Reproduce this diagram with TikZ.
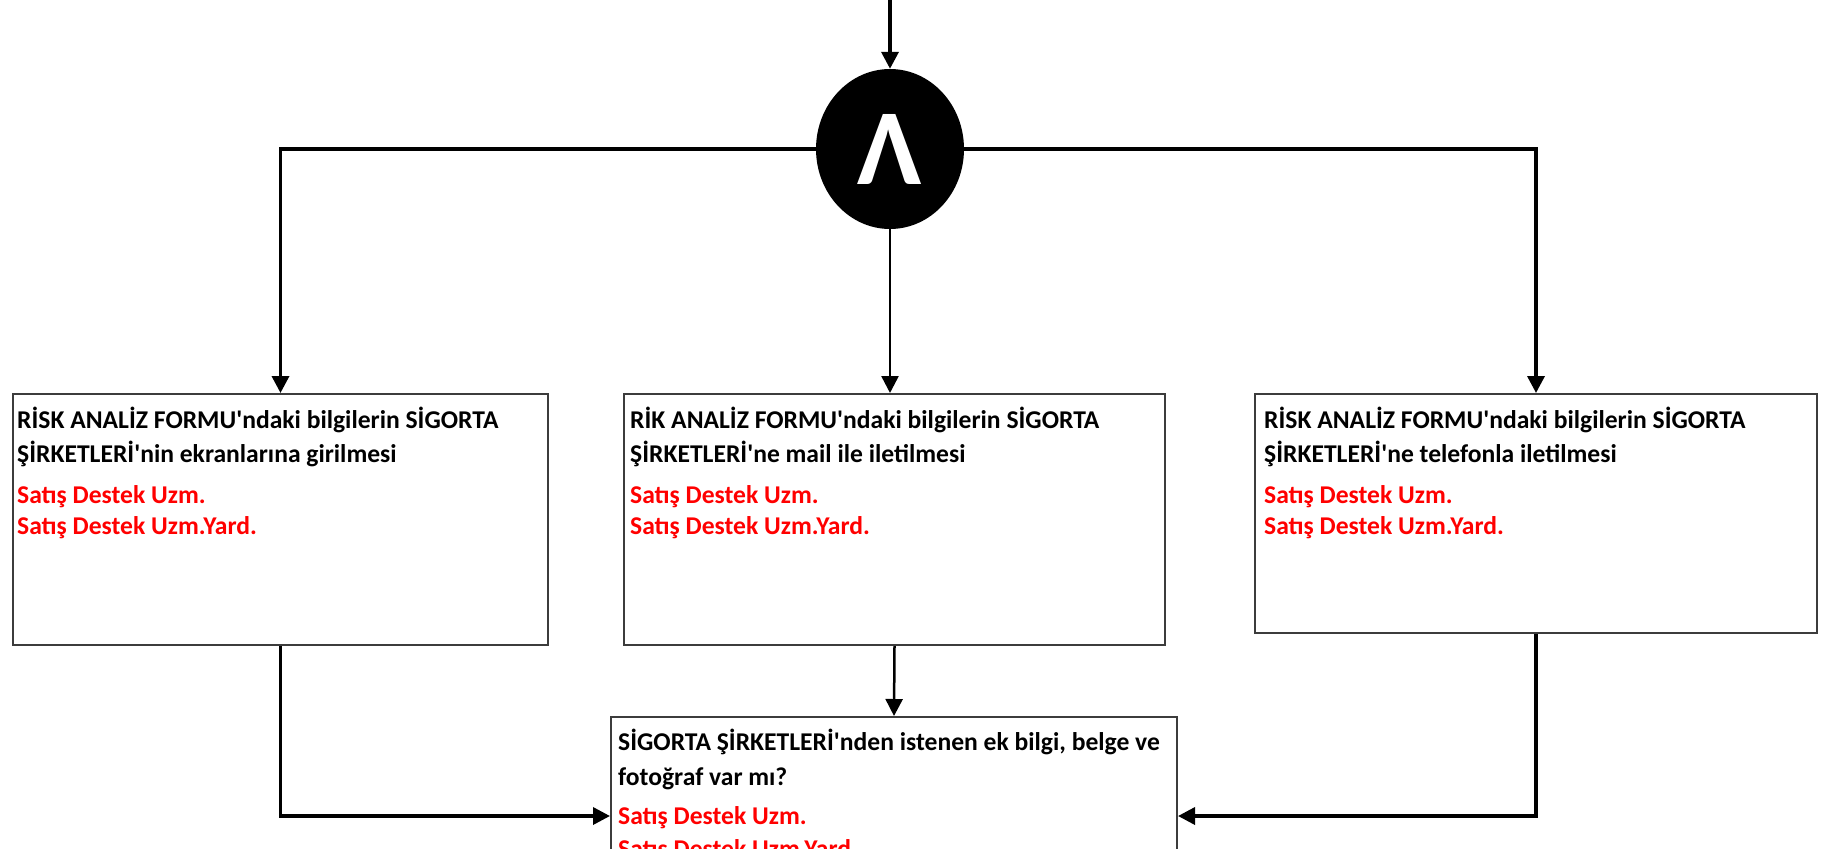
\documentclass[tikz,border=0pt]{standalone}
\usepackage{fontspec}
\setmainfont{Carlito}[Ligatures=TeXOff]
\usetikzlibrary{arrows.meta,shapes.geometric}
\definecolor{boxline}{RGB}{60,60,60}
\definecolor{roleRed}{RGB}{255,0,0}
\tikzset{
  stepbox/.style={draw=boxline, line width=2pt, rectangle, anchor=north west, inner sep=0pt},
  conn/.style={line width=3.5pt, -{Triangle[width=17pt,length=17pt]}},
  thinconn/.style={line width=2.5pt, -{Triangle[width=17pt,length=17pt]}},
  txt/.style={anchor=base west, inner sep=0pt, font=\fontsize{25.6}{30}\bfseries\selectfont},
  roletxt/.style={txt, text=roleRed},
}
\begin{document}
\begin{tikzpicture}[x=1pt,y=-1pt]
\useasboundingbox (0,0) rectangle (1825,857);
\clip (0,0) rectangle (1825,848);
% AND gate
\node[ellipse, fill=black, minimum width=148pt, minimum height=160pt, inner sep=0pt, text=white,
      font=\fontsize{108}{108}\bfseries\selectfont] (and) at (890,149) {Λ};
\coordinate (top) at (890,-5);
% boxes
\node[stepbox, minimum width=535pt, minimum height=251pt] (b1) at (12,393) {};
\node[stepbox, minimum width=541pt, minimum height=251pt] (b2) at (623,393) {};
\node[stepbox, minimum width=562pt, minimum height=239pt] (b3) at (1254,393) {};
\node[stepbox, minimum width=566pt, minimum height=198pt] (b4) at (610,716) {};
% texts box 1
\node[txt] (t1a) at (17,428) {RİSK ANALİZ FORMU'ndaki bilgilerin SİGORTA};
\node[txt] (t1b) at (17,462) {ŞİRKETLERİ'nin ekranlarına girilmesi};
\node[roletxt] (t1c) at (17,503) {Satış Destek Uzm.};
\node[roletxt] (t1d) at (17,534) {Satış Destek Uzm.Yard.};
% texts box 2
\node[txt] (t2a) at (630,428) {RİK ANALİZ FORMU'ndaki bilgilerin SİGORTA};
\node[txt] (t2b) at (630,462) {ŞİRKETLERİ'ne mail ile iletilmesi};
\node[roletxt] (t2c) at (630,503) {Satış Destek Uzm.};
\node[roletxt] (t2d) at (630,534) {Satış Destek Uzm.Yard.};
% texts box 3
\node[txt] (t3a) at (1264,428) {RİSK ANALİZ FORMU'ndaki bilgilerin SİGORTA};
\node[txt] (t3b) at (1264,462) {ŞİRKETLERİ'ne telefonla iletilmesi};
\node[roletxt] (t3c) at (1264,503) {Satış Destek Uzm.};
\node[roletxt] (t3d) at (1264,534) {Satış Destek Uzm.Yard.};
% texts box 4
\node[txt] (t4a) at (618,750) {SİGORTA ŞİRKETLERİ'nden istenen ek bilgi, belge ve};
\node[txt] (t4b) at (618,785) {fotoğraf var  mı?};
\node[roletxt] (t4c) at (618,824) {Satış Destek Uzm.};
\node[roletxt] (t4d) at (618,857) {Satış Destek Uzm.Yard.};
% connectors
\draw[conn] (top) -- (and.north);
\draw[conn] (and.west) -| (b1.north);
\draw[thinconn] (and.south) -- (and.south |- b2.north);
\draw[conn] (and.east) -| (b3.north);
\draw[thinconn] (b2.south) -- (b4.north);
\draw[conn] (b1.south) |- (b4.west);
\draw[conn] (b3.south) |- (b4.east);
\end{tikzpicture}
\end{document}
